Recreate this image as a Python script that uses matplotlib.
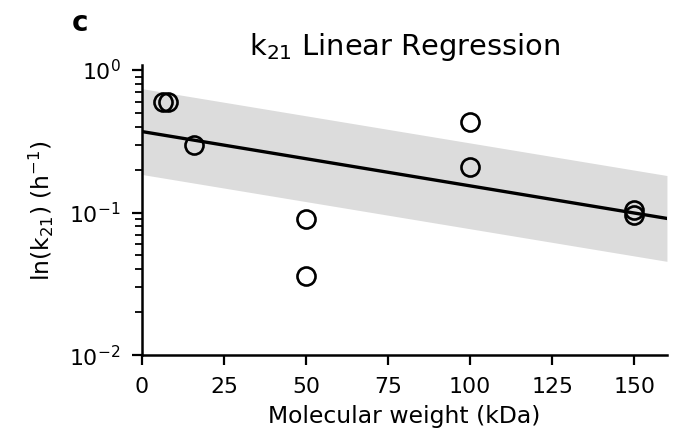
import numpy as np
import matplotlib.pyplot as plt

# Molecular weight (kDa) and measured k21 (1/h)
mw = [6.5, 8, 15.8, 50, 50, 100, 100, 150, 150]
k21 = [0.6, 0.6, 0.3, 0.09, 0.036, 0.43, 0.21, 0.096, 0.104]

# Fitted line ln(k21) = ln(k0) + slope * MW, band = fit x/÷ 2
k0 = 0.37
slope = -0.00877
band_factor = 2.0

x_fit = np.linspace(0, 160, 200)
y_fit = k0 * np.exp(slope * x_fit)

fig = plt.figure(figsize=(6.8, 4.32), dpi=100)
ax = fig.add_axes([0.2088, 0.178, 0.772, 0.6715])

ax.fill_between(x_fit, y_fit / band_factor, y_fit * band_factor,
                color="#dcdcdc", linewidth=0)
ax.plot(x_fit, y_fit, color="black", linewidth=2.4)
ax.plot(mw, k21, linestyle="none", marker="o", markersize=13,
        markerfacecolor="none", markeredgecolor="black", markeredgewidth=1.9)

ax.set_yscale("log")
ax.set_xlim(0, 160)
ax.set_ylim(0.01, 1.084)
ax.set_xticks([0, 25, 50, 75, 100, 125, 150])

for side in ["top", "right"]:
    ax.spines[side].set_visible(False)
for side in ["left", "bottom"]:
    ax.spines[side].set_linewidth(1.8)
ax.tick_params(axis="both", which="major", labelsize=15.8, length=7, width=1.6, pad=8.5)
ax.tick_params(axis="y", which="minor", length=5, width=1.3)

ax.set_title("k$_{21}$ Linear Regression", fontsize=20.8, pad=7)
ax.set_xlabel("Molecular weight (kDa)", fontsize=16.9, labelpad=6)
ax.set_ylabel("ln(k$_{21}$) (h$^{-1}$)", fontsize=16.9, labelpad=9)

fig.text(0.118, 0.947, "c", fontsize=20, fontweight="bold", ha="center", va="center")

fig.savefig("out.png", dpi=100)
